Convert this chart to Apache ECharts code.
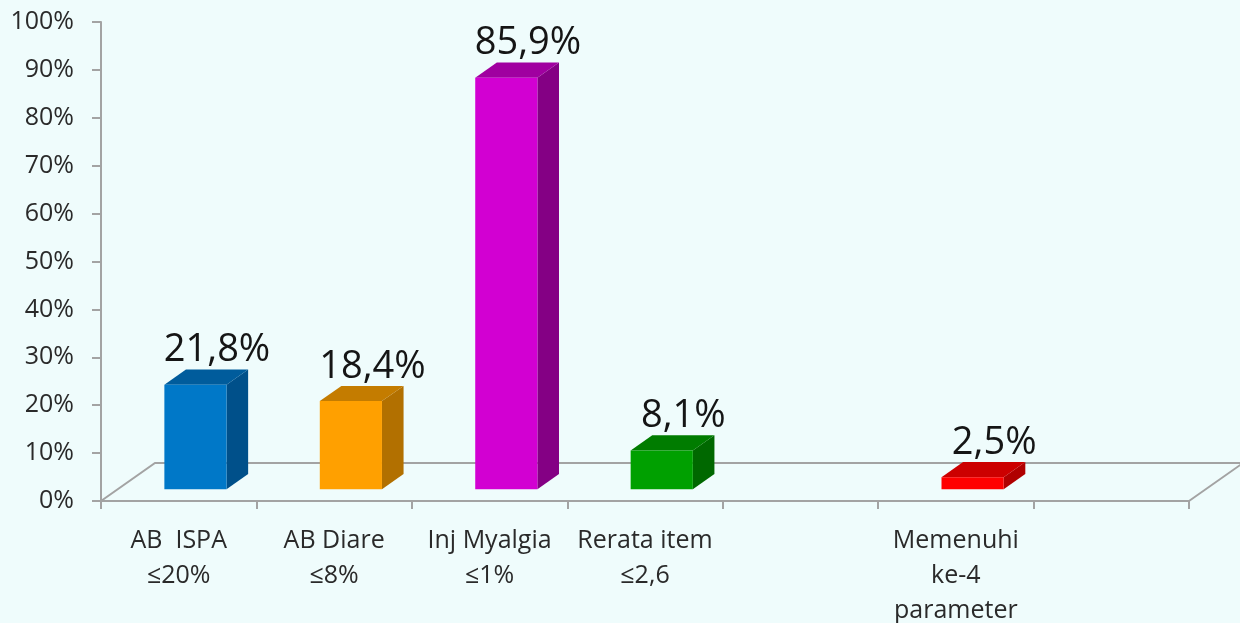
<!DOCTYPE html>
<html>
<head>
<meta charset="utf-8">
<script src="https://cdn.jsdelivr.net/npm/echarts@6/dist/echarts.min.js"></script>
<style>
  html, body { margin: 0; padding: 0; background: #effcfc; }
  #chart { width: 1240px; height: 623px; }
</style>
</head>
<body>
<div id="chart"></div>
<script>
// Indicator categories (two empty slots keep the original spacing)
const categories = [
  'AB  ISPA\n≤20%',
  'AB Diare\n≤8%',
  'Inj Myalgia\n≤1%',
  'Rerata item\n≤2,6',
  '',
  'Memenuhi\nke-4\nparameter',
  ''
];
// Percentage per indicator
const values = [21.8, 18.4, 85.9, 8.1, null, 2.5, null];
// Value-axis ticks
const yTicks = { min: 0, max: 100, step: 10 };

// Face colours of each box: front / side / top
const palette = [
  { front: '#0078c8', side: '#00508a', top: '#005c9c' },
  { front: '#ffa000', side: '#b27000', top: '#c47c00' },
  { front: '#d200d2', side: '#840084', top: '#a000a0' },
  { front: '#00a000', side: '#006800', top: '#007c00' },
  null,
  { front: '#ff0000', side: '#b00000', top: '#cc0000' },
  null
];

// 3D look: the floor recedes by this vector, boxes sit inside its depth
const FLOOR_DEPTH = [54, -38];
const BOX_FRONT = 0.31;
const BOX_BACK = 0.71;
const BOX_WIDTH = 0.4;
const AXIS_GREY = '#a3a3a3';

function fmt(v) {
  return String(v).replace('.', ',') + '%';
}

const chart = echarts.init(document.getElementById('chart'));

chart.setOption({
  backgroundColor: '#effcfc',
  animation: false,
  grid: { left: 101, right: 51, top: 22, bottom: 122, containLabel: false, outerBoundsMode: 'none' },
  xAxis: {
    type: 'category',
    data: categories,
    boundaryGap: true,
    axisLine: { lineStyle: { color: AXIS_GREY, width: 2 } },
    axisTick: { show: true, length: 8, lineStyle: { color: AXIS_GREY, width: 2 } },
    axisLabel: {
      interval: 0,
      margin: 22,
      fontFamily: 'Open Sans',
      fontSize: 25,
      lineHeight: 35,
      color: '#2a2a2a'
    },
    splitLine: { show: false }
  },
  yAxis: {
    type: 'value',
    min: yTicks.min,
    max: yTicks.max,
    interval: yTicks.step,
    axisLine: { show: true, lineStyle: { color: AXIS_GREY, width: 2 } },
    axisTick: { show: true, length: 9, lineStyle: { color: AXIS_GREY, width: 2 } },
    axisLabel: {
      formatter: '{value}%',
      margin: 27,
      fontFamily: 'Open Sans',
      fontSize: 25,
      color: '#2a2a2a'
    },
    splitLine: { show: false }
  },
  series: [
    {
      // receding floor outline
      type: 'custom',
      z: 1,
      silent: true,
      data: [0],
      renderItem: function (params) {
        const cs = params.coordSys;
        const x = cs.x, b = cs.y + cs.height, w = cs.width;
        const [dx, dy] = FLOOR_DEPTH;
        return {
          type: 'polyline',
          shape: { points: [[x, b], [x + dx, b + dy], [x + w + dx, b + dy], [x + w, b]] },
          style: { stroke: AXIS_GREY, lineWidth: 2, fill: null }
        };
      }
    },
    {
      type: 'custom',
      z: 2,
      data: values.map((v, i) => [i, v]),
      renderItem: function (params, api) {
        const v = api.value(1);
        const pal = palette[params.dataIndex];
        if (v == null || isNaN(v) || !pal) return;
        const base = api.coord([api.value(0), 0]);
        const topPt = api.coord([api.value(0), v]);
        const band = api.size([1, 0])[0];
        const w = band * BOX_WIDTH;
        const fx = FLOOR_DEPTH[0] * BOX_FRONT, fy = FLOOR_DEPTH[1] * BOX_FRONT;
        const dx = FLOOR_DEPTH[0] * (BOX_BACK - BOX_FRONT);
        const dy = FLOOR_DEPTH[1] * (BOX_BACK - BOX_FRONT);
        const x0 = base[0] - w / 2 + fx, x1 = x0 + w;
        const yb = base[1] + fy, yt = topPt[1] + fy;
        return {
          type: 'group',
          children: [
            {
              type: 'polygon',
              shape: { points: [[x1, yb], [x1, yt], [x1 + dx, yt + dy], [x1 + dx, yb + dy]] },
              style: { fill: pal.side }
            },
            {
              type: 'polygon',
              shape: { points: [[x0, yt], [x1, yt], [x1 + dx, yt + dy], [x0 + dx, yt + dy]] },
              style: { fill: pal.top }
            },
            {
              type: 'rect',
              shape: { x: x0, y: yt, width: w, height: yb - yt },
              style: { fill: pal.front }
            },
            {
              type: 'text',
              x: (x0 + x1) / 2 + dx,
              y: yt + dy,
              style: {
                text: fmt(v),
                fontFamily: 'Open Sans',
                fontSize: 38,
                fill: '#151515',
                align: 'center',
                verticalAlign: 'bottom'
              }
            }
          ]
        };
      }
    }
  ]
});
</script>
</body>
</html>
